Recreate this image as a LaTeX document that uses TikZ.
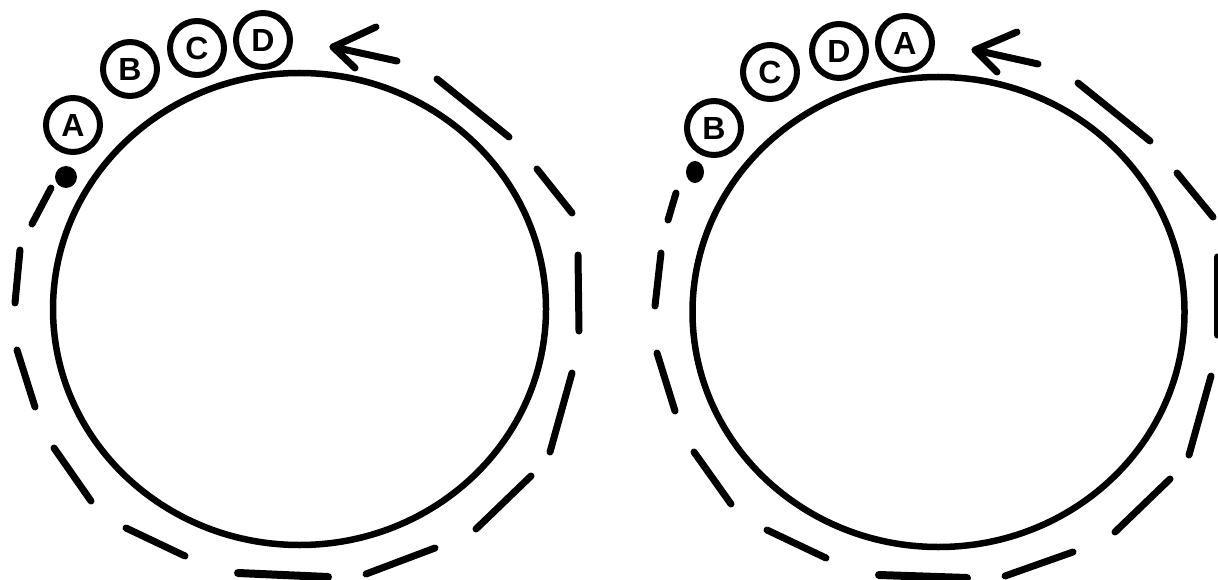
\documentclass[tikz,border=0pt]{standalone}
\usepackage{fontspec}
\usetikzlibrary{shapes.geometric}
\newfontfamily\lblfont{Liberation Sans}
\begin{document}
\begin{tikzpicture}[x=1pt,y=-1pt,
  ring/.style={draw,line width=6.5pt},
  dashseg/.style={draw,line width=7pt,line cap=round},
  arrowpath/.style={draw,line width=7pt,line cap=round,line join=round},
  ball/.style={circle,draw,line width=6pt,minimum size=54pt,inner sep=0pt,
    font=\lblfont\bfseries\fontsize{32}{32}\selectfont},
  dotnode/.style={circle,fill=black,inner sep=0pt,minimum size=22pt}]
\useasboundingbox[fill=white] (0,0) rectangle (1218,580);

% ---------- left picture ----------
\draw[ring] (299.5,309) ellipse [x radius=246.5, y radius=236];
\node[ball] (lA) at (73,125) {A};
\node[ball] (lB) at (130,69) {B};
\node[ball] (lC) at (197,48) {C};
\node[ball] (lD) at (263,40) {D};
\node[dotnode] (ldot) at (66,177) {};
\path[arrowpath] (397,61) -- (333,47);
\path[arrowpath] (376,27) -- (333,47) -- (355,68);
\path[dashseg] (51,188) -- (32,224);
\path[dashseg] (20,250) -- (15,303);
\path[dashseg] (17,350) -- (35,407);
\path[dashseg] (54,448) -- (91,501);
\path[dashseg] (126,528) -- (185,556);
\path[dashseg,line width=8pt] (238,573) -- (328,577);
\path[dashseg] (366,574) -- (435,548);
\path[dashseg] (476,529) -- (531,476);
\path[dashseg] (550,452) -- (572,373);
\path[dashseg] (578,255) -- (579,331);
\path[dashseg] (537,169) -- (572,213);
\path[dashseg] (437,79) -- (509,137);

% ---------- right picture ----------
\draw[ring] (938.5,312) ellipse [x radius=246, y radius=235];
\node[ball] (rB) at (714,128) {B};
\node[ball] (rC) at (770,72) {C};
\node[ball] (rD) at (839,51) {D};
\node[ball] (rA) at (905,43) {A};
\node[ellipse,fill=black,inner sep=0pt,minimum width=18pt,minimum height=22pt] (rdot) at (695,172) {};
\path[arrowpath] (1038,64) -- (975,50);
\path[arrowpath] (1017,32) -- (975,50) -- (997,72);
\path[dashseg] (676,193) -- (668,220);
\path[dashseg] (661,253) -- (655,306);
\path[dashseg] (657,353) -- (675,411);
\path[dashseg] (694,452) -- (731,504);
\path[dashseg] (767,530) -- (826,558);
\path[dashseg,line width=8pt] (879,575) -- (967,578);
\path[dashseg] (1005,576) -- (1073,552);
\path[dashseg] (1115,532) -- (1170,479);
\path[dashseg] (1189,455) -- (1211,376);
\path[dashseg] (1217,257) -- (1217,335);
\path[dashseg] (1177,173) -- (1213,217);
\path[dashseg] (1078,83) -- (1150,141);
\end{tikzpicture}
\end{document}
